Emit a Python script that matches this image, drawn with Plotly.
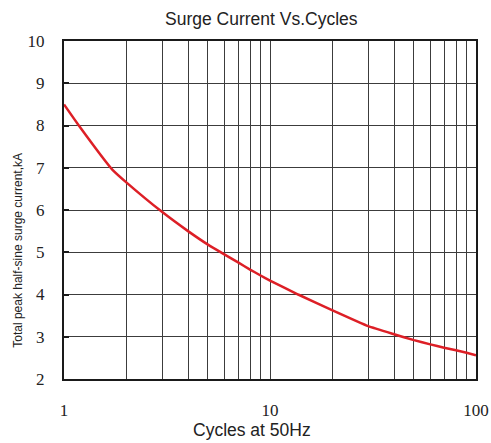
import plotly.graph_objects as go

cycles = [1, 1.18, 1.72, 2, 3, 4, 5, 6, 7, 8, 9, 10, 13.7, 20, 30, 40, 50, 60, 70, 80, 90, 100]
current_ka = [8.5, 8.0, 6.95, 6.66, 5.95, 5.5, 5.18, 4.95, 4.76, 4.59, 4.45, 4.33, 4.0, 3.63, 3.25, 3.06, 2.92, 2.82, 2.74, 2.68, 2.62, 2.56]

x_major = [1, 10, 100]
x_major_text = ["1", "10", "100"]
x_minor = [2, 3, 4, 5, 6, 7, 8, 9, 20, 30, 40, 50, 60, 70, 80, 90]
y_ticks = [2, 3, 4, 5, 6, 7, 8, 9, 10]

# body margin is removed in the page, so figure px == page px
W, H = 491, 443
PX0, PX1, PY0, PY1 = 63.7, 476.5, 40.5, 378.7   # plot area in page px
L, R, T, B = PX0, W - PX1, PY0, H - PY1


def px_x(p):
    return (p - PX0) / (PX1 - PX0)


def px_y(p):
    return (PY1 - p) / (PY1 - PY0)


fig = go.Figure()
fig.add_trace(go.Scatter(x=cycles, y=current_ka, mode="lines",
                         line=dict(color="#dd1f26", width=2.5, shape="spline", smoothing=0.4),
                         showlegend=False, hoverinfo="skip"))

grid = "#3c3c3c"
tickfont = dict(family="Liberation Serif, Times New Roman, serif", size=17, color="#222")
fig.update_layout(
    width=W, height=H,
    margin=dict(l=L, r=R, t=T, b=B, pad=0, autoexpand=False),
    paper_bgcolor="white", plot_bgcolor="white",
    hovermode=False,
    xaxis=dict(type="log", range=[0, 2], tickvals=x_major, ticktext=x_major_text,
               automargin=False,
               showgrid=True, gridcolor=grid, gridwidth=1,
               minor=dict(tickvals=x_minor, showgrid=True, gridcolor=grid, gridwidth=1, ticks=""),
               showline=True, linecolor="#1a1a1a", linewidth=2, mirror=True,
               ticks="", ticklabelstandoff=15, tickfont=tickfont, zeroline=False),
    yaxis=dict(range=[2, 10], tickvals=y_ticks, automargin=False,
               showgrid=True, gridcolor=grid, gridwidth=1,
               showline=True, linecolor="#1a1a1a", linewidth=2, mirror=True,
               ticks="inside", ticklen=5, tickwidth=2, tickcolor="#1a1a1a",
               ticklabelstandoff=14, tickfont=tickfont, zeroline=False),
    annotations=[
        dict(text="Surge Current Vs.Cycles", xref="paper", yref="paper",
             x=px_x(261.7), y=px_y(18.5), xanchor="center", yanchor="middle", showarrow=False,
             font=dict(family="Liberation Sans, Arial", size=17.5, color="#222")),
        dict(text="Cycles at 50Hz", xref="paper", yref="paper",
             x=px_x(251.7), y=px_y(430), xanchor="center", yanchor="middle", showarrow=False,
             font=dict(family="Liberation Sans, Arial", size=17.5, color="#222")),
        dict(text="Total peak half-sine surge current,kA", xref="paper", yref="paper",
             x=px_x(18), y=px_y(250), xanchor="center", yanchor="middle", textangle=-90,
             showarrow=False,
             font=dict(family="Liberation Sans, Arial", size=12, color="#222")),
    ],
)

fig.write_html("out.html",
               config={"displayModeBar": False, "staticPlot": True},
               post_script="document.body.style.margin='0';document.body.style.overflow='hidden';")
